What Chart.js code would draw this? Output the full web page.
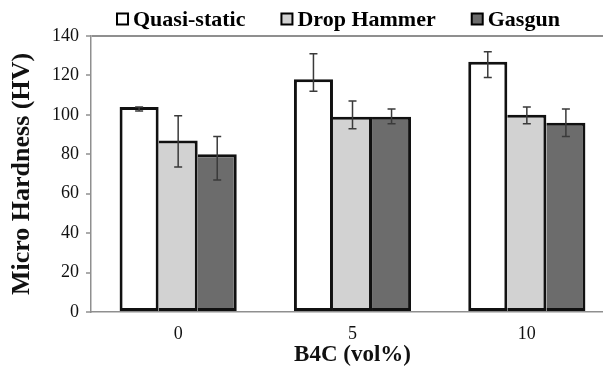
<!DOCTYPE html>
<html>
<head>
<meta charset="utf-8">
<script src="https://cdn.jsdelivr.net/npm/chart.js@4/dist/chart.umd.min.js"></script>
<style>
  html, body { margin: 0; padding: 0; background: #fff; overflow: hidden; }
  #wrap { width: 603px; height: 373px; overflow: hidden; }
</style>
</head>
<body>
<div id="wrap"><canvas id="myChart" width="614" height="373"></canvas></div>
<script>
/* Datos */
const categories = ['0', '5', '10'];
const seriesNames = ['Quasi-static', 'Drop Hammer', 'Gasgun'];
const quasiStatic = [104, 118, 127];
const dropHammer = [87, 99, 100];
const gasgun = [80, 99, 96];
// extremos de las barras de error (alto / bajo)
const quasiHigh = [104, 131, 132];
const quasiLow = [102, 112, 119];
const dropHigh = [99.5, 107, 104];
const dropLow = [73.5, 93, 95.5];
const gasHigh = [89, 103, 103];
const gasLow = [67, 95.5, 89];
const yTicks = [0, 20, 40, 60, 80, 100, 120, 140];

const serif = '"Liberation Serif", "Times New Roman", serif';
const axisGray = '#8f8f8f';

/* Barras de error */
const errorBars = {
  id: 'errorBars',
  afterDatasetsDraw(chart) {
    const c = chart.ctx;
    const y = chart.scales.y;
    c.save();
    c.strokeStyle = '#3a3a3a';
    c.lineWidth = 1.5;
    chart.data.datasets.forEach((ds, i) => {
      chart.getDatasetMeta(i).data.forEach((bar, j) => {
        const top = y.getPixelForValue(ds.errHigh[j]);
        const bot = y.getPixelForValue(ds.errLow[j]);
        c.beginPath();
        c.moveTo(bar.x, top); c.lineTo(bar.x, bot);
        c.moveTo(bar.x - 4, top); c.lineTo(bar.x + 4, top);
        c.moveTo(bar.x - 4, bot); c.lineTo(bar.x + 4, bot);
        c.stroke();
      });
    });
    c.restore();
  }
};

/* Leyenda arriba */
const topLegend = {
  id: 'topLegend',
  afterDraw(chart) {
    const c = chart.ctx;
    c.save();
    c.font = 'bold 22px ' + serif;
    c.textBaseline = 'middle';
    let x = chart.chartArea.left + 26;
    const y = 19;
    chart.data.datasets.forEach(ds => {
      c.fillStyle = ds.backgroundColor;
      c.fillRect(x, y - 5.5, 11, 11);
      c.lineWidth = 2;
      c.strokeStyle = '#000';
      c.strokeRect(x, y - 5.5, 11, 11);
      c.fillStyle = '#000';
      c.fillText(ds.label, x + 16, y + 1);
      x += 16 + c.measureText(ds.label).width + 36;
    });
    c.restore();
  }
};

new Chart(document.getElementById('myChart'), {
  type: 'bar',
  data: {
    labels: categories,
    datasets: [{
      label: seriesNames[0],
      data: quasiStatic,
      errHigh: quasiHigh,
      errLow: quasiLow,
      backgroundColor: '#ffffff',
      borderColor: '#111',
      borderWidth: 3,
      borderSkipped: false
    }, {
      label: seriesNames[1],
      data: dropHammer,
      errHigh: dropHigh,
      errLow: dropLow,
      backgroundColor: '#d2d2d2',
      borderColor: '#111',
      borderWidth: {left: 0, right: 3, top: 3, bottom: 3},
      borderSkipped: false
    }, {
      label: seriesNames[2],
      data: gasgun,
      errHigh: gasHigh,
      errLow: gasLow,
      backgroundColor: '#6c6c6c',
      borderColor: '#111',
      borderWidth: {left: 0, right: 3, top: 3, bottom: 3},
      borderSkipped: false
    }]
  },
  options: {
    responsive: false,
    animation: false,
    layout: { padding: { top: 36, right: 0, left: 0, bottom: 0 } },
    datasets: { bar: { categoryPercentage: 0.672, barPercentage: 1 } },
    plugins: {
      legend: { display: false },
      tooltip: { enabled: false }
    },
    scales: {
      x: {
        afterFit: s => { s.height = 61; },
        grid: { display: false, drawTicks: false },
        border: { display: true, color: axisGray, width: 1.5 },
        ticks: { color: '#111', padding: 11, font: { family: serif, size: 18 } },
        title: {
          display: true,
          text: 'B4C (vol%)',
          color: '#111',
          font: { family: serif, size: 23, weight: 'bold' },
          padding: { top: 0, bottom: 4 }
        }
      },
      y: {
        min: 0,
        max: 140,
        afterFit: s => { s.width = 91; },
        afterBuildTicks: s => { s.ticks = yTicks.map(v => ({ value: v })); },
        grid: {
          color: c => (c.tick && c.tick.value === 140) ? axisGray : 'rgba(0,0,0,0)',
          lineWidth: 2,
          tickColor: axisGray,
          tickLength: 5,
          tickWidth: 1.5
        },
        border: { display: true, color: axisGray, width: 1.5 },
        ticks: { color: '#111', padding: 7, font: { family: serif, size: 18 } },
        title: {
          display: true,
          text: 'Micro Hardness (HV)',
          color: '#111',
          font: { family: serif, size: 26, weight: 'bold' },
          padding: { top: 7, bottom: 0 }
        }
      }
    }
  },
  plugins: [errorBars, topLegend]
});
</script>
</body>
</html>
